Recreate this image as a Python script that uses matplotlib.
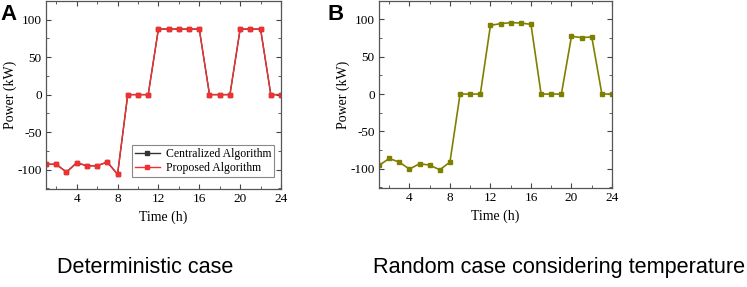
import numpy as np
import matplotlib.pyplot as plt
from matplotlib.ticker import MultipleLocator

hours = list(range(1, 25))
# deterministic case (centralized and proposed overlap)
centralized = [-93, -93, -103.5, -91, -95, -95, -90, -106.5, 0, 0, 0,
               87.5, 87.5, 87.5, 87.5, 87.5, 0, 0, 0, 87.5, 87.5, 87.5, 0, 0]
proposed = [-93, -93, -103.5, -91, -95, -95, -90, -106.5, 0, 0, 0,
            87.5, 87.5, 87.5, 87.5, 87.5, 0, 0, 0, 87.5, 87.5, 87.5, 0, 0]
# random case considering temperature
random_case = [-95.8, -86.4, -91.3, -100.7, -93.5, -95.3, -101.6, -91.3, 0, 0, 0,
               92.2, 94.4, 95.8, 95.3, 93.5, 0, 0, 0, 77.5, 75.7, 76.6, 0, 0]

serif = ['Liberation Serif', 'DejaVu Serif']
sans = ['Liberation Sans', 'DejaVu Sans']
plt.rcParams['axes.unicode_minus'] = False

fig = plt.figure(figsize=(7.47, 2.87), dpi=100)
ax1 = fig.add_axes([0.0616, 0.3415, 0.3146, 0.655])
ax2 = fig.add_axes([0.5074, 0.345, 0.3119, 0.652])


def style(ax):
    ax.set_xlim(1, 24)
    ax.set_ylim(-126, 125)
    ax.xaxis.set_major_locator(MultipleLocator(4))
    ax.xaxis.set_minor_locator(MultipleLocator(2))
    ax.yaxis.set_major_locator(MultipleLocator(50))
    ax.yaxis.set_minor_locator(MultipleLocator(25))
    ax.tick_params(which='both', direction='in', top=True, right=True,
                   color='#444444', labelsize=9.5)
    ax.tick_params(which='major', length=3.5, width=0.8, pad=3)
    ax.tick_params(which='minor', length=2, width=0.6)
    for s in ax.spines.values():
        s.set_color('#555555')
        s.set_linewidth(0.9)
    for lab in ax.get_xticklabels() + ax.get_yticklabels():
        lab.set_family(serif)
    ax.set_xlabel('Time (h)', family=serif, fontsize=10, labelpad=4)
    ax.set_ylabel('Power (kW)', family=serif, fontsize=10, labelpad=0)


ax1.plot(hours, centralized, color='#333333', marker='s', markersize=2.8,
         linewidth=1, label='Centralized Algorithm')
ax1.plot(hours, proposed, color='#f23030', marker='s', markersize=2.8,
         linewidth=1, label='Proposed Algorithm')
style(ax1)
leg = ax1.legend(loc='lower right', bbox_to_anchor=(0.97, 0.064),
                 prop={'family': serif, 'size': 8.5},
                 fancybox=False, edgecolor='#888888', framealpha=1,
                 borderaxespad=0, borderpad=0.25, handlelength=2.1,
                 handletextpad=0.5, labelspacing=0.2)
leg.get_frame().set_linewidth(0.8)

ax2.plot(hours, random_case, color='#808000', marker='s', markersize=2.8,
         linewidth=1.2)
style(ax2)

fig.text(0.0, 0.985, 'A', family=sans, fontsize=16, fontweight='bold', va='top')
fig.text(0.438, 0.985, 'B', family=sans, fontsize=16, fontweight='bold', va='top')
fig.text(0.195, 0.068, 'Deterministic case', family=sans, fontsize=15.6,
         ha='center', va='center')
fig.text(0.749, 0.068, 'Random case considering temperature', family=sans,
         fontsize=15.6, ha='center', va='center')

plt.savefig('out.png', dpi=100)
